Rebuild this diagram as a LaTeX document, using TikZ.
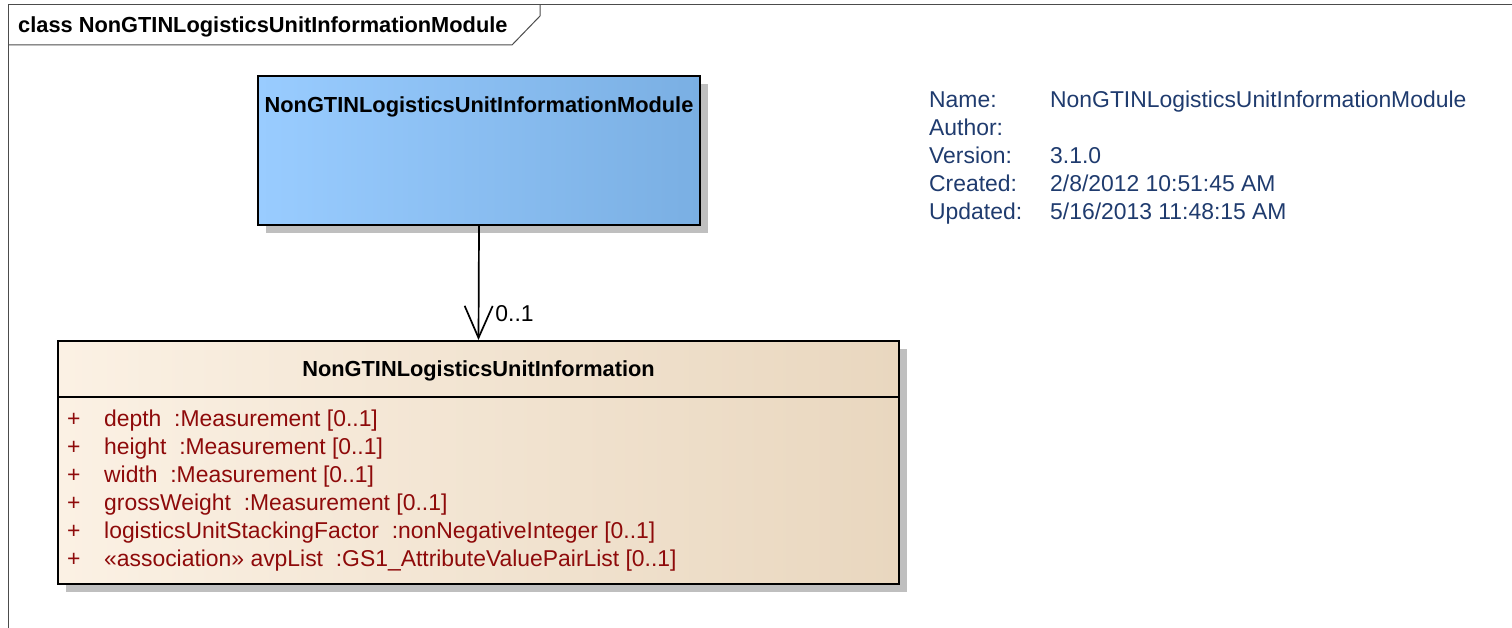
\documentclass[tikz,border=0pt]{standalone}
\usepackage{fontspec}
\setmainfont{Liberation Sans}
\usepackage{xcolor}
\usetikzlibrary{positioning,calc,arrows.meta,shadows}
\definecolor{attred}{HTML}{8E0A0A}
\definecolor{infblue}{HTML}{1F3B6E}
\definecolor{modl}{HTML}{99CCFF}
\definecolor{modr}{HTML}{7AAFE3}
\definecolor{clsl}{HTML}{FBF1E4}
\definecolor{clsr}{HTML}{E9D7BF}

\begin{document}
\begin{tikzpicture}[x=1pt,y=-1pt,
 frm/.style={draw=black!70,line width=1pt},
 box/.style={draw,line width=2pt,anchor=north west,inner sep=0pt,
   drop shadow={shadow xshift=8pt,shadow yshift=-8pt,fill=black!25,opacity=1}},
 modbox/.style={box,left color=modl,middle color=modl,right color=modr},
 clsbox/.style={box,left color=clsl,middle color=clsl!70!clsr,right color=clsr},
 hd/.style={inner sep=0pt,font=\fontsize{21.8}{26}\selectfont\bfseries},
 att/.style={anchor=base west,inner sep=0pt,text=attred,font=\fontsize{22.9}{28}\selectfont},
 inf/.style={anchor=base west,inner sep=0pt,text=infblue,font=\fontsize{22.9}{28}\selectfont},
 assoc/.style={-{Straight Barb[length=32pt,width=28pt]},line width=1.7pt}]
\useasboundingbox (0,0) rectangle (1512,628);
% diagram frame and tab
\draw[frm] (8,628) -- (8,5) -- (1512,5);
\node[hd,anchor=base west] (ttl) at (18,33) {class NonGTINLogisticsUnitInformationModule};
\draw[frm] (8,45) -- (512,45) -- (540,16) -- (540,5);
% classes
\node[modbox,minimum width=442pt,minimum height=149pt] (mod) at (257,75) {};
\node[hd] (modname) at ($(mod.north)+(0,32)$) {NonGTINLogisticsUnitInformationModule};
\node[clsbox,minimum width=841pt,minimum height=243pt] (nli) at (57,340) {};
\node[hd] (nliname) at ($(nli.north)+(0,31)$) {NonGTINLogisticsUnitInformation};
\draw[line width=1.5pt] ($(nli.north west)+(0,57)$) -- ($(nli.north east)+(0,57)$);
\node[att] (a1) at (67,426) {\makebox[37pt][l]{+}depth\ \ :Measurement [0..1]};
\node[att] (a2) at (67,454) {\makebox[37pt][l]{+}height\ \ :Measurement [0..1]};
\node[att] (a3) at (67,482) {\makebox[37pt][l]{+}width\ \ :Measurement [0..1]};
\node[att] (a4) at (67,510) {\makebox[37pt][l]{+}grossWeight\ \ :Measurement [0..1]};
\node[att] (a5) at (67,538) {\makebox[37pt][l]{+}logisticsUnitStackingFactor\ \ :nonNegativeInteger [0..1]};
\node[att] (a6) at (67,566) {\makebox[37pt][l]{+}«association» avpList\ \ :GS1\_AttributeValuePairList [0..1]};
% association
\draw[assoc] (mod.south) -- node[pos=0.77,anchor=west,xshift=16pt,inner sep=0pt,font=\fontsize{22.9}{28}\selectfont]{0..1} (nli.north);
% diagram properties
\node[inf] (i1) at (929,108) {\makebox[121pt][l]{Name:}NonGTINLogisticsUnitInformationModule};
\node[inf] (i2) at (929,136) {\makebox[121pt][l]{Author:}};
\node[inf] (i3) at (929,164) {\makebox[121pt][l]{Version:}3.1.0};
\node[inf] (i4) at (929,192) {\makebox[121pt][l]{Created:}2/8/2012 10:51:45 AM};
\node[inf] (i5) at (929,220) {\makebox[121pt][l]{Updated:}5/16/2013 11:48:15 AM};
\end{tikzpicture}
\end{document}
